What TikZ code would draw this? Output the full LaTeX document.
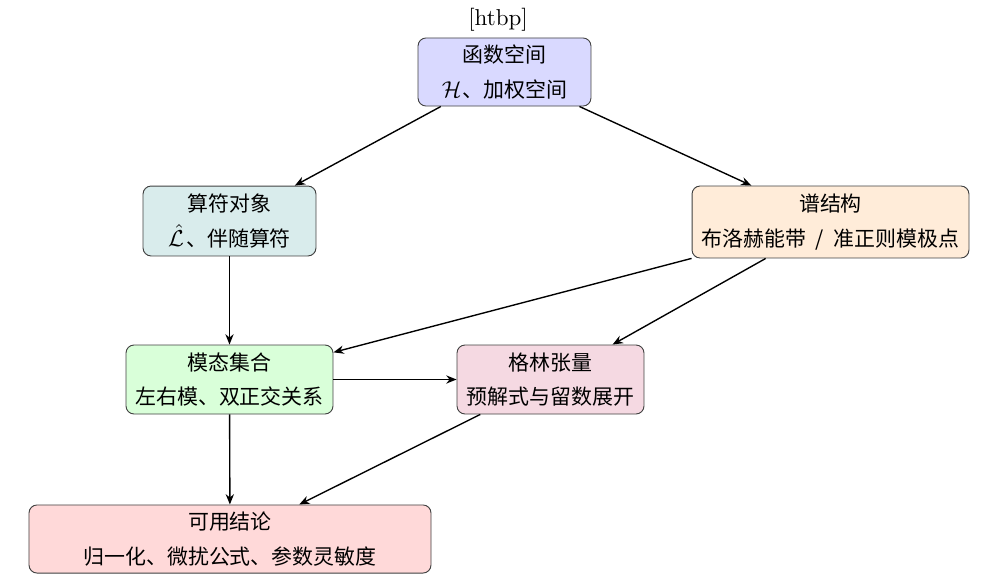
\documentclass[tikz,border=0pt]{standalone}
\usepackage{fontspec}
\newfontfamily\cjk{Noto Sans CJK SC}[Scale=0.91]
\usetikzlibrary{arrows.meta}
\begin{document}
\begin{tikzpicture}[x=0.4348pt,y=-0.4348pt,
  box/.style={draw=black!75, thin, rounded corners=3.5pt, align=center, font=\cjk, inner sep=0pt},
  conn/.style={-{Stealth[length=4.5pt,width=3.6pt]}, semithick}]
\useasboundingbox (0,0) rectangle (998,586);
\node (pos) at (498,20) {[htbp]};
\node[box, fill=blue!15, minimum width=75.2pt, minimum height=29.6pt] (space) at (504.5,72)
  {函数空间\\[3pt]$\mathcal{H}$\kern0.5pt、加权空间};
\node[box, fill=teal!15, minimum width=75.2pt, minimum height=30.4pt] (op) at (229.5,221)
  {算符对象\\[3pt]$\hat{\mathcal{L}}$\kern1pt、伴随算符};
\node[box, fill=orange!15, minimum width=120.4pt, minimum height=31.3pt] (spec) at (830.5,222)
  {谱结构\\[3pt]布洛赫能带\hspace{0.45em}/\hspace{0.45em}准正则模极点};
\node[box, fill=green!15, minimum width=90pt, minimum height=30pt] (modes) at (229.5,379.5)
  {模态集合\\[3pt]左右模、双正交关系};
\node[box, fill=purple!15, minimum width=81.3pt, minimum height=30pt] (green) at (550.5,379.5)
  {格林张量\\[3pt]预解式与留数展开};
\node[box, fill=red!15, minimum width=174.8pt, minimum height=29.6pt] (res) at (230,539)
  {可用结论\\[3pt]归一化、微扰公式、参数灵敏度};
\draw[conn] (space) -- (op);
\draw[conn] (space) -- (spec);
\draw[conn] (op) -- (modes);
\draw[conn] (spec) -- (modes);
\draw[conn] (spec) -- (green);
\draw[conn] (modes) -- (green);
\draw[conn] (modes) -- (res);
\draw[conn] (green) -- (res);
\end{tikzpicture}
\end{document}
